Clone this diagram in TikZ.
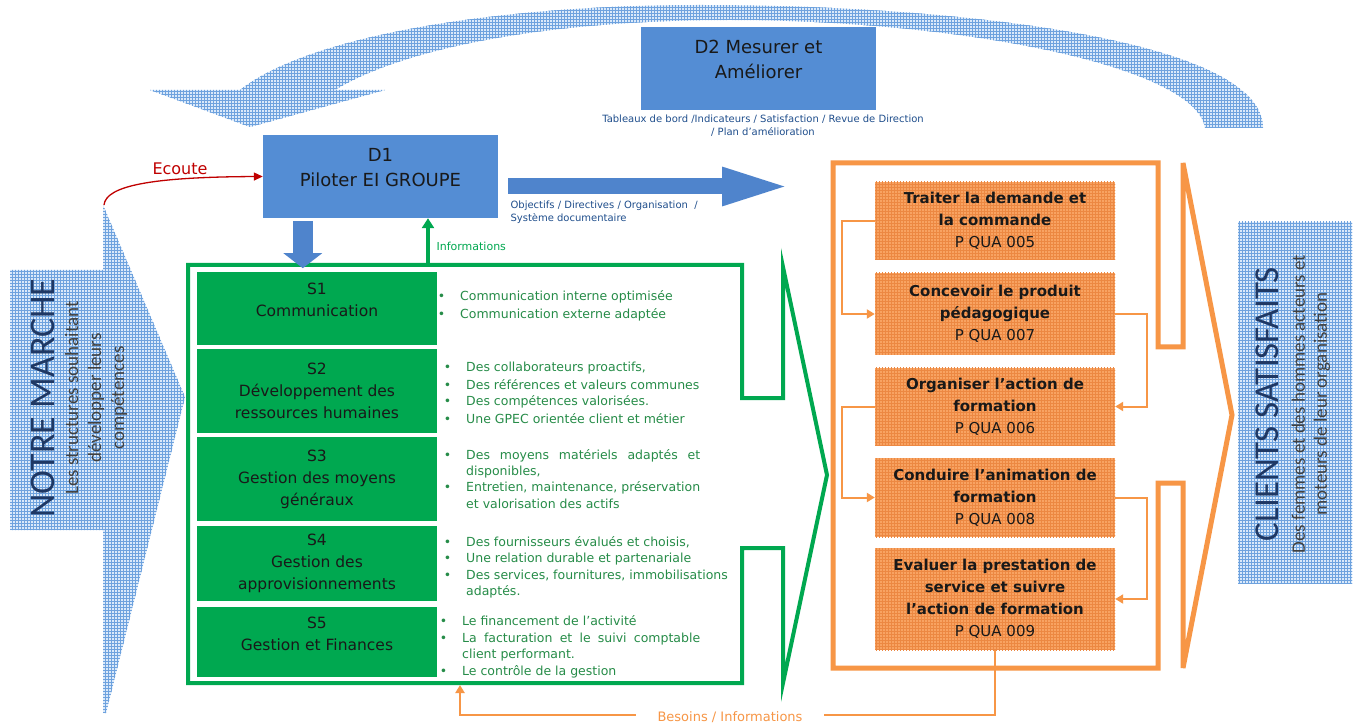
\documentclass[tikz,border=0pt]{standalone}
\usepackage{fontspec}
\setmainfont{DejaVu Sans}
\newfontfamily\titlefont{Carlito}
\usetikzlibrary{arrows.meta, calc, patterns}

\definecolor{boxblue}{RGB}{84,141,212}
\definecolor{arrowblue}{RGB}{79,132,204}
\definecolor{capblue}{RGB}{31,78,140}
\definecolor{sgreen}{RGB}{0,168,80}
\definecolor{bgreen}{RGB}{38,140,72}
\definecolor{oframe}{RGB}{247,150,70}
\definecolor{procorange}{RGB}{248,163,98}
\definecolor{procgrid}{RGB}{236,136,66}
\definecolor{hatchbg}{RGB}{218,233,250}
\definecolor{hatchline}{RGB}{110,162,222}
\definecolor{navy1}{RGB}{31,56,100}
\definecolor{greytxt}{RGB}{64,64,64}
\definecolor{ecoutered}{RGB}{192,0,0}
\definecolor{darktext}{RGB}{25,25,25}

\pgfdeclarepatternformonly{finegrid}{\pgfqpoint{-1pt}{-1pt}}{\pgfqpoint{4pt}{4pt}}{\pgfqpoint{3pt}{3pt}}{%
  \pgfsetlinewidth{0.9pt}%
  \pgfpathmoveto{\pgfqpoint{-1pt}{0pt}}\pgfpathlineto{\pgfqpoint{4pt}{0pt}}%
  \pgfpathmoveto{\pgfqpoint{0pt}{-1pt}}\pgfpathlineto{\pgfqpoint{0pt}{4pt}}%
  \pgfusepath{stroke}}

\newcommand{\bul}{\llap{\textbullet\hspace{15pt}}}

\begin{document}
\begin{tikzpicture}[x=1pt, y=-1pt,
  hatch/.style={fill=hatchbg, postaction={pattern=finegrid, pattern color=hatchline}},
  dbox/.style={fill=boxblue, text=darktext, minimum width=235pt, minimum height=83pt,
               align=center, font=\fontsize{18}{25}\selectfont},
  sbox/.style={fill=sgreen, text=darktext, minimum width=240pt, align=center,
               font=\fontsize{15.5}{22}\selectfont},
  procbox/.style={fill=procorange, postaction={pattern=finegrid, pattern color=procgrid},
                  text=darktext, minimum width=240pt, align=center,
                  font=\fontsize{15}{22}\selectfont},
  btxt/.style={anchor=west, inner sep=0pt, text=bgreen, text height=9pt, text depth=3pt,
               font=\fontsize{12.5}{17}\selectfont},
  captxt/.style={text=capblue, font=\fontsize{10}{13}\selectfont},
  bluearrow/.style={draw=arrowblue},
  flow/.style={draw=oframe, line width=2pt, -{Triangle[length=8pt, width=9pt]}},
]
\path[use as bounding box, fill=white] (0,0) rectangle (1366,727);

% Hatched shapes
\path[hatch] (1263,128) -- (1205,128)
  .. controls (1196,66) and (960,20) .. (730,20)
  .. controls (540,20) and (400,50) .. (335,90)
  -- (385,90) -- (250,127) -- (150,90) -- (240,90)
  .. controls (310,35) and (500,5) .. (700,5)
  .. controls (960,5) and (1263,40) .. (1263,128) -- cycle;
\path[hatch] (10,270) -- (103,270) -- (103,205) -- (185,397) -- (106,713)
  -- (103,713) -- (103,530) -- (10,530) -- cycle;
\path[hatch] (1238,222) rectangle (1352,583);

\node[rotate=90, text=navy1, font=\titlefont\fontsize{36}{40}\selectfont] (marche) at (43,398) {NOTRE MARCHE};
\node[rotate=90, text=greytxt, align=center, font=\titlefont\fontsize{19}{23}\selectfont] (marchesub) at (96,398)
{Les structures souhaitant\\développer leurs\\compétences};
\node[rotate=90, text=navy1, font=\titlefont\fontsize{35}{40}\selectfont] (clients) at (1267,404) {CLIENTS SATISFAITS};
\node[rotate=90, text=greytxt, align=center, font=\titlefont\fontsize{19}{22}\selectfont] (clientssub) at (1311,404)
{Des femmes et des hommes acteurs et\\moteurs de leur organisation};

% Frames
\draw[sgreen, line width=4pt] (742,398) -- (783,398) -- (783,267) -- (827,475) -- (783,683)
  -- (783,548) -- (742,548) -- (742,683) -- (188,683) -- (188,265) -- (742,265) -- cycle;
\draw[oframe, line width=5pt] (1158,347) -- (1183,347) -- (1183,163) -- (1232,415) -- (1183,668)
  -- (1183,483) -- (1158,483) -- (1158,668) -- (833,668) -- (833,163) -- (1158,163) -- cycle;

% Support processes
\node[sbox, minimum height=73pt] (s1) at (317,308.5) {S1\\Communication\\[-5pt]\mbox{}};
\node[sbox, minimum height=84pt] (s2) at (317,391) {S2\\Développement des\\ressources humaines};
\node[sbox, minimum height=84pt] (s3) at (317,479) {S3\\Gestion des moyens\\généraux};
\node[sbox, minimum height=75pt] (s4) at (317,563.5) {S4\\Gestion des\\approvisionnements};
\node[sbox, minimum height=70pt] (s5) at (317,642) {S5\\Gestion et Finances\\[-5pt]\mbox{}};

\foreach \xx/\yy/\tx in {
  460/298/{\bul Communication interne optimisée},
  460/316/{\bul Communication externe adaptée},
  466/368/{\bul Des collaborateurs proactifs,},
  466/386/{\bul Des références et valeurs communes},
  466/403/{\bul Des compétences valorisées.},
  466/420/{\bul Une GPEC orientée client et métier},
  466/456/{\bul\makebox[234pt][s]{Des moyens matériels adaptés et}},
  466/472/{disponibles,},
  466/488/{\bul\makebox[234pt][s]{Entretien, maintenance, préservation}},
  466/505/{et valorisation des actifs},
  466/543/{\bul Des fournisseurs évalués et choisis,},
  466/559/{\bul Une relation durable et partenariale},
  466/576/{\bul Des services, fournitures, immobilisations},
  466/592/{adaptés.},
  462/622/{\bul Le financement de l'activité},
  462/639/{\bul\makebox[238pt][s]{La facturation et le suivi comptable}},
  462/655/{client performant.},
  462/672/{\bul Le contrôle de la gestion}}
  \node[btxt] (b\yy) at (\xx,\yy) {\tx};

% Main processes
\node[procbox, minimum height=78pt] (p005) at (995,221)
{\textbf{Traiter la demande et}\\\textbf{la commande}\\P QUA 005};
\node[procbox, minimum height=82pt] (p007) at (995,314)
{\textbf{Concevoir le produit}\\\textbf{pédagogique}\\P QUA 007};
\node[procbox, minimum height=77pt] (p006) at (995,406.5)
{\textbf{Organiser l’action de}\\\textbf{formation}\\P QUA 006};
\node[procbox, minimum height=79pt] (p008) at (995,497.5)
{\textbf{Conduire l’animation de}\\\textbf{formation}\\P QUA 008};
\node[procbox, minimum height=102pt] (p009) at (995,599)
{\textbf{Evaluer la prestation de}\\\textbf{service et suivre}\\\textbf{l’action de formation}\\P QUA 009};

\draw[flow] (p005.west) -- ++(-33,0) |- (p007.west);
\draw[flow] (p007.east) -- ++(32,0) |- (p006.east);
\draw[flow] (p006.west) -- ++(-33,0) |- (p008.west);
\draw[flow] (p008.east) -- ++(32,0) |- (p009.east);
\coordinate (needs) at (460,685);
\draw[flow] (p009.south) -- ++(0,65) -| (needs);
\node[fill=white, inner xsep=22pt, inner ysep=2pt, text=oframe, font=\fontsize{13}{15}\selectfont] (besoins) at (730,717)
{Besoins / Informations};

% Steering
\node[dbox] (d2) at (758.5,68.5) {D2 Mesurer et\\Améliorer\\[-7pt]\mbox{}};
\node[captxt, align=center] (d2cap) at (763,125.5)
{Tableaux de bord /Indicateurs / Satisfaction / Revue de Direction\\/ Plan d'amélioration};
\node[dbox] (d1) at (380.5,176.5) {D1\\Piloter EI GROUPE\\[-7pt]\mbox{}};
\node[captxt, align=left, anchor=west] (d1cap) at (507,212.5)
{Objectifs / Directives / Organisation \ /\\Système documentaire};

% Arrows
\coordinate (objtip) at (792,186.5);
\draw[bluearrow, line width=16pt, -{Triangle[length=70pt, width=34pt]}] ($(d1.east)+(10,10)$) -- (objtip);
\draw[bluearrow, line width=20pt, -{Triangle[length=15pt, width=38pt]}] ($(d1.south west)+(40,3)$) -- ++(0,47);
\coordinate (infofoot) at (428,263);
\draw[sgreen, line width=4pt, -{Triangle[length=10pt, width=12pt]}] (infofoot) -- (infofoot |- d1.south);
\node[anchor=west, text=sgreen, font=\fontsize{11}{13}\selectfont] (infolbl) at (433,246) {Informations};
\coordinate (marchetop) at (104,205);
\draw[ecoutered, line width=1.3pt, -{Triangle[length=9pt, width=8pt]}] (marchetop)
  .. controls (106,186) and (150,177) .. (d1.west);
\node[text=ecoutered, font=\fontsize{16}{18}\selectfont] (ecoute) at (180,169) {Ecoute};
\end{tikzpicture}
\end{document}
